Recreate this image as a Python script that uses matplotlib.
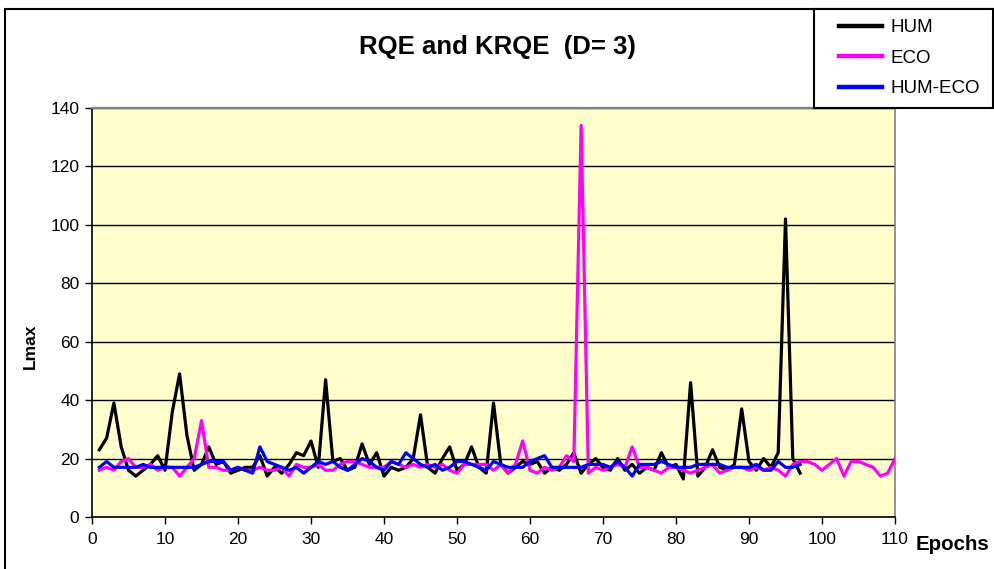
import matplotlib
matplotlib.use("Agg")
import matplotlib.pyplot as plt
from matplotlib.patches import Rectangle
from matplotlib.lines import Line2D

plt.rcParams['font.family'] = ['Liberation Sans', 'DejaVu Sans']

# ---------------- data ----------------
epochs_hum = list(range(1, 98))
hum = [23, 27, 39, 24, 16, 14, 16, 18, 21, 16,
       36, 49, 28, 16, 18, 24, 18, 19, 15, 16,
       17, 17, 21, 14, 17, 15, 18, 22, 21, 26,
       17, 47, 19, 20, 16, 17, 25, 18, 22, 14,
       17, 16, 17, 20, 35, 17, 15, 20, 24, 16,
       18, 24, 17, 15, 39, 18, 15, 17, 19, 18,
       19, 15, 17, 16, 18, 22, 15, 18, 20, 17,
       16, 20, 16, 18, 15, 17, 16, 22, 17, 18,
       13, 46, 14, 17, 23, 17, 16, 18, 37, 19,
       16, 20, 17, 22, 102, 20, 15]

epochs_eco = list(range(1, 111))
eco = [16, 17, 16, 19, 20, 17, 17, 18, 16, 17,
       17, 14, 17, 20, 33, 17, 17, 16, 16, 17,
       16, 16, 17, 16, 16, 17, 14, 18, 17, 17,
       18, 16, 16, 18, 19, 19, 18, 17, 17, 17,
       19, 18, 17, 18, 17, 18, 17, 18, 16, 15,
       18, 18, 18, 18, 16, 18, 15, 18, 26, 16,
       15, 17, 16, 17, 21, 19, 134, 15, 17, 16,
       17, 18, 17, 24, 17, 17, 16, 15, 17, 17,
       16, 15, 16, 17, 18, 15, 16, 17, 17, 16,
       17, 16, 17, 16, 14, 18, 19, 19, 18, 16,
       18, 20, 14, 19, 19, 18, 17, 14, 15, 20]

epochs_he = list(range(1, 98))
hum_eco = [17, 19, 17, 17, 17, 17, 18, 17, 17, 17,
           17, 17, 17, 17, 18, 19, 19, 19, 16, 17,
           16, 15, 24, 19, 18, 17, 16, 17, 15, 17,
           19, 18, 19, 17, 16, 18, 20, 19, 17, 16,
           19, 18, 22, 20, 18, 17, 18, 16, 17, 19,
           19, 18, 17, 16, 19, 18, 17, 17, 17, 19,
           20, 21, 17, 17, 17, 17, 17, 18, 18, 18,
           17, 19, 17, 14, 18, 18, 18, 19, 18, 17,
           17, 17, 18, 18, 18, 18, 17, 17, 17, 17,
           18, 16, 16, 19, 17, 17, 18]

series_names = ['HUM', 'ECO', 'HUM-ECO']
series_colors = ['#000000', '#FF00FF', '#0000FF']
x_ticks = list(range(0, 111, 10))
y_ticks = list(range(0, 141, 20))

# ---------------- figure ----------------
W, H = 994, 569
fig = plt.figure(figsize=(W / 100, H / 100), dpi=100)
fig.patch.set_facecolor('white')

def fx(px):
    return px / W

def fy(py):
    return 1 - py / H

# outer chart border
fig.add_artist(Rectangle((fx(5), -0.05), 1.2, fy(9) + 0.05, transform=fig.transFigure,
                         fill=False, edgecolor='black', lw=1.5, zorder=0))

ax = fig.add_axes([fx(92), fy(517), fx(895) - fx(92), fy(108) - fy(517)])
ax.set_facecolor('#FFFFCC')

lw = 2.3
ax.plot(epochs_hum, hum, color=series_colors[0], lw=lw, solid_joinstyle='round', zorder=3)
ax.plot(epochs_eco, eco, color=series_colors[1], lw=lw, solid_joinstyle='round', zorder=4)
ax.plot(epochs_he, hum_eco, color=series_colors[2], lw=lw, solid_joinstyle='round', zorder=5)

ax.set_xlim(0, 110)
ax.set_ylim(0, 140)
ax.set_xticks(x_ticks)
ax.set_yticks(y_ticks)
ax.tick_params(axis='both', direction='out', length=5, width=1, labelsize=12.5, colors='black')
ax.tick_params(axis='x', pad=6)
ax.tick_params(axis='y', pad=4)
ax.yaxis.grid(True, color='black', lw=1.0, zorder=1)
ax.set_axisbelow(True)
for s in ['left', 'bottom']:
    ax.spines[s].set_color('black')
    ax.spines[s].set_linewidth(1.2)
ax.spines['top'].set_color('#808080')
ax.spines['top'].set_linewidth(1.6)
ax.spines['right'].set_color('#808080')
ax.spines['right'].set_linewidth(1.2)

# texts
fig.text(fx(497), fy(47), 'RQE and KRQE  (D= 3)', ha='center', va='center',
         fontsize=18.5, fontweight='bold')
fig.text(fx(30), fy(346), 'Lmax', ha='center', va='center', rotation=90,
         fontsize=12.5, fontweight='bold')
fig.text(fx(916), fy(544), 'Epochs', ha='left', va='center',
         fontsize=14.8, fontweight='bold')

# legend box
fig.add_artist(Rectangle((fx(814), fy(108)), fx(993) - fx(814), fy(9) - fy(108),
                         transform=fig.transFigure, facecolor='white',
                         edgecolor='black', lw=1.5, zorder=6))
handles = [Line2D([], [], color=c, lw=3.2) for c in series_colors]
leg = fig.legend(handles, series_names, loc='upper left',
                 bbox_to_anchor=(fx(839), fy(19)), frameon=False,
                 fontsize=13.5, handlelength=2.3, handletextpad=0.45,
                 labelspacing=0.72, borderpad=0, borderaxespad=0)
leg.set_zorder(7)

fig.savefig('out.png', dpi=100, facecolor='white')
